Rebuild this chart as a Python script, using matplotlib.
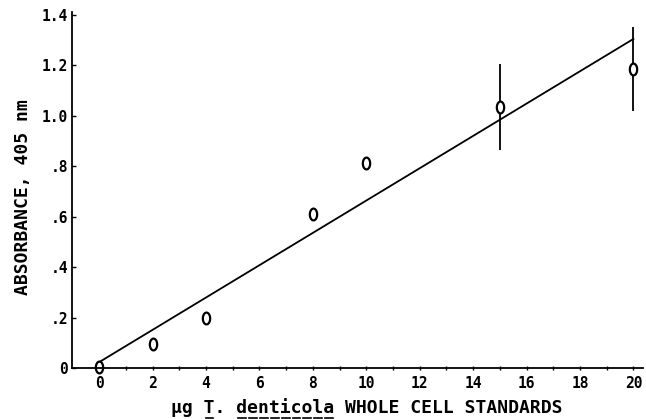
import numpy as np
import matplotlib
matplotlib.use('Agg')
from matplotlib import pyplot as plt
from matplotlib.path import Path
from matplotlib.lines import Line2D

# standards (ug) and measured absorbance at 405 nm
ug_cells = [0, 2, 4, 8, 10, 15, 20]
absorbance = [0.005, 0.097, 0.200, 0.608, 0.812, 1.034, 1.183]
abs_err = [0.0, 0.012, 0.015, 0.025, 0.006, 0.170, 0.166]

x_ticks = [0, 2, 4, 6, 8, 10, 12, 14, 16, 18, 20]
y_ticks = [0, 0.2, 0.4, 0.6, 0.8, 1.0, 1.2, 1.4]
y_ticklabels = ['0', '.2', '.4', '.6', '.8', '1.0', '1.2', '1.4']

xlab = 'µg T. denticola WHOLE CELL STANDARDS'
# (start char, n chars) underlined: the "T" and "denticola"
underlined = [(xlab.index('T.'), 1), (xlab.index('denticola'), 9)]

plt.rcParams['font.family'] = ['DejaVu Sans Mono', 'DejaVu Sans']
plt.rcParams['font.weight'] = 'bold'

# tall ellipse marker like the plotter "0"
t = np.linspace(0, 2*np.pi, 40)
ell = Path(np.column_stack([0.62*np.cos(t), np.sin(t)]), closed=True)

fig = plt.figure(figsize=(6.46, 4.19), dpi=100)
ax = fig.add_axes([72/646, 51/419, 571/646, 356/419])

# least-squares standard curve
slope, icpt = np.polyfit(ug_cells, absorbance, 1)
xf = np.array([ug_cells[0], ug_cells[-1]])
ax.plot(xf, slope*xf + icpt, color='black', lw=1.3, clip_on=False)

ax.errorbar(ug_cells, absorbance, yerr=abs_err, fmt='none', ecolor='black',
            elinewidth=1.3, capsize=0, clip_on=False)
ax.plot(ug_cells, absorbance, linestyle='none', marker=ell, markersize=8.5,
        markerfacecolor='white', markeredgecolor='black', markeredgewidth=1.6,
        clip_on=False)

ax.set_xlim(-1.02, 20.36)
ax.set_ylim(0, 1.41)
ax.spines['top'].set_visible(False)
ax.spines['right'].set_visible(False)
ax.spines['left'].set_linewidth(1.3)
ax.spines['bottom'].set_linewidth(1.3)

ax.set_xticks(x_ticks)
ax.set_xticklabels([str(v) for v in x_ticks])
ax.set_xticks(range(0, 21), minor=True)
ax.set_yticks(y_ticks)
ax.set_yticklabels(y_ticklabels)
ax.tick_params(axis='x', which='both', direction='inout', length=3, width=1, pad=4.5, labelsize=10.5)
ax.tick_params(axis='y', direction='in', length=3, width=1, pad=3, labelsize=10.5)

xl = ax.set_xlabel(xlab, fontsize=13, fontweight='bold', va='center')
ax.xaxis.set_label_coords(0.517, -0.112)
ax.set_ylabel('ABSORBANCE, 405 nm', fontsize=13, fontweight='bold', va='center')
ax.yaxis.set_label_coords(-0.085, 0.48)

# underline character by character (monospace -> fixed pitch), dashed look
fig.canvas.draw()
bb = xl.get_window_extent()
pitch = bb.width / len(xlab)
uy = (bb.y0 - 1) / fig.bbox.height
for i0, n in underlined:
    for k in range(n):
        xa = bb.x0 + (i0 + k) * pitch + 1.5
        xb = bb.x0 + (i0 + k + 1) * pitch - 1.5
        fig.add_artist(Line2D([xa / fig.bbox.width, xb / fig.bbox.width], [uy, uy],
                              color='black', lw=1.2, transform=fig.transFigure))

plt.savefig('out.png', dpi=100)
